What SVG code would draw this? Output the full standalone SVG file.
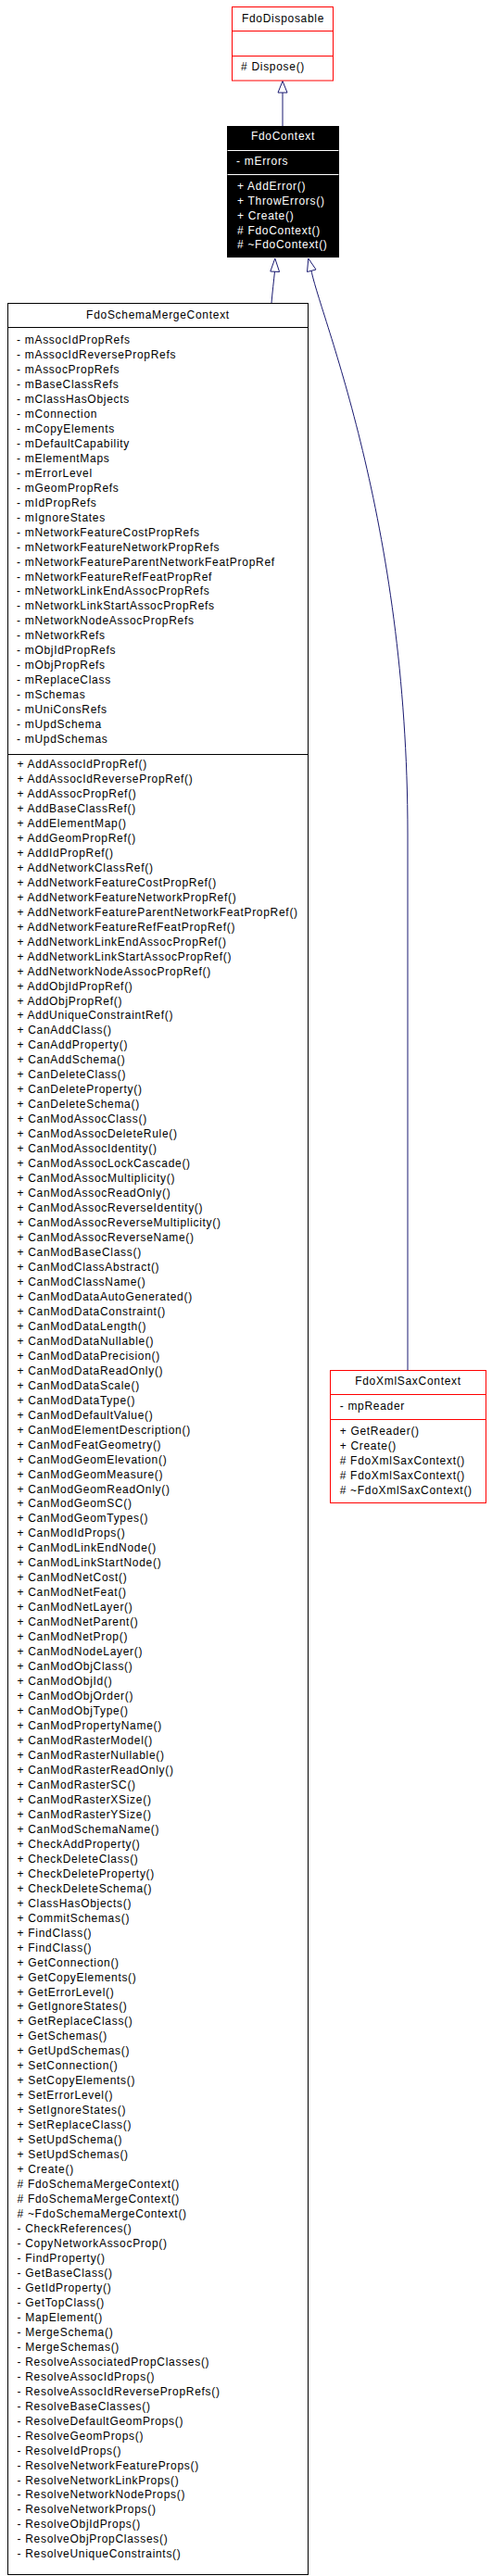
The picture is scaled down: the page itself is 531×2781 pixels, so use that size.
<svg xmlns="http://www.w3.org/2000/svg" width="531" height="2781" viewBox="0 0 531 2781">
<style>
text{font-family:"Liberation Sans",Arial,sans-serif;font-size:12px;letter-spacing:0.7px;fill:#000}
.w{fill:#fff}
.c{text-anchor:middle}
.box{fill:#fff;stroke:#000;stroke-width:1}
.red{fill:#fff;stroke:#ff0000;stroke-width:1}
.blk{fill:#000;stroke:#000;stroke-width:1}
.sep{stroke:#000;stroke-width:1}
.rsep{stroke:#ff0000;stroke-width:1}
.wsep{stroke:#fff;stroke-width:1}
.edge{fill:none;stroke:#191970;stroke-width:1}
.head{fill:#fff;stroke:#191970;stroke-width:1}
</style>
<rect width="531" height="2781" fill="#fff"/>
<g id="connectors">
<path class="edge" d="M305,136 L305,100"/>
<polygon class="head" points="305,87.5 300,100 310,100"/>
<path class="edge" d="M293,327 C294,315 295.5,303 296.5,293"/>
<polygon class="head" points="296.8,279 291.8,293 301.6,293.5"/>
<path class="edge" d="M336,292 C345,340 440,560 440,900 L440,1479"/>
<polygon class="head" points="332.8,279 331.5,293.5 341,291"/>
</g>
<g id="FdoDisposable">
<rect class="red" x="250.5" y="7.5" width="109" height="79.5"/>
<line class="rsep" x1="250.5" y1="33.5" x2="359.5" y2="33.5"/>
<line class="rsep" x1="250.5" y1="60.5" x2="359.5" y2="60.5"/>
<text class="c" x="305.5" y="23.5">FdoDisposable</text>
<text x="260" y="76"># Dispose()</text>
</g>
<g id="FdoContext">
<rect class="blk" x="245.5" y="136.5" width="120" height="141"/>
<line class="wsep" x1="245.5" y1="162.5" x2="365.5" y2="162.5"/>
<line class="wsep" x1="245.5" y1="188.5" x2="365.5" y2="188.5"/>
<text class="c w" x="305.5" y="151">FdoContext</text>
<text class="w" x="255" y="178">- mErrors</text>
<text class="w"><tspan x="256" y="205">+ AddError()</tspan><tspan x="256" dy="15.85">+ ThrowErrors()</tspan><tspan x="256" dy="15.85">+ Create()</tspan><tspan x="256" dy="15.85"># FdoContext()</tspan><tspan x="256" dy="15.85"># ~FdoContext()</tspan></text>
</g>
<g id="FdoXmlSaxContext">
<rect class="red" x="356.5" y="1479.5" width="168" height="143"/>
<line class="rsep" x1="356.5" y1="1505.5" x2="524.5" y2="1505.5"/>
<line class="rsep" x1="356.5" y1="1532.5" x2="524.5" y2="1532.5"/>
<text class="c" x="440.5" y="1495">FdoXmlSaxContext</text>
<text x="366.7" y="1522">- mpReader</text>
<text><tspan x="366.7" y="1549">+ GetReader()</tspan><tspan x="366.7" dy="15.9">+ Create()</tspan><tspan x="366.7" dy="15.9"># FdoXmlSaxContext()</tspan><tspan x="366.7" dy="15.9"># FdoXmlSaxContext()</tspan><tspan x="366.7" dy="15.9"># ~FdoXmlSaxContext()</tspan></text>
</g>
<g id="FdoSchemaMergeContext">
<rect class="box" x="8.5" y="327.5" width="324" height="2452"/>
<line class="sep" x1="8.5" y1="353.5" x2="332.5" y2="353.5"/>
<line class="sep" x1="8.5" y1="814.5" x2="332.5" y2="814.5"/>
<text class="c" x="170.5" y="344">FdoSchemaMergeContext</text>
<text><tspan x="18" y="371">- mAssocIdPropRefs</tspan><tspan x="18" dy="15.97">- mAssocIdReversePropRefs</tspan><tspan x="18" dy="15.97">- mAssocPropRefs</tspan><tspan x="18" dy="15.97">- mBaseClassRefs</tspan><tspan x="18" dy="15.97">- mClassHasObjects</tspan><tspan x="18" dy="15.97">- mConnection</tspan><tspan x="18" dy="15.97">- mCopyElements</tspan><tspan x="18" dy="15.97">- mDefaultCapability</tspan><tspan x="18" dy="15.97">- mElementMaps</tspan><tspan x="18" dy="15.97">- mErrorLevel</tspan><tspan x="18" dy="15.97">- mGeomPropRefs</tspan><tspan x="18" dy="15.97">- mIdPropRefs</tspan><tspan x="18" dy="15.97">- mIgnoreStates</tspan><tspan x="18" dy="15.97">- mNetworkFeatureCostPropRefs</tspan><tspan x="18" dy="15.97">- mNetworkFeatureNetworkPropRefs</tspan><tspan x="18" dy="15.97">- mNetworkFeatureParentNetworkFeatPropRef</tspan><tspan x="18" dy="15.97">- mNetworkFeatureRefFeatPropRef</tspan><tspan x="18" dy="15.97">- mNetworkLinkEndAssocPropRefs</tspan><tspan x="18" dy="15.97">- mNetworkLinkStartAssocPropRefs</tspan><tspan x="18" dy="15.97">- mNetworkNodeAssocPropRefs</tspan><tspan x="18" dy="15.97">- mNetworkRefs</tspan><tspan x="18" dy="15.97">- mObjIdPropRefs</tspan><tspan x="18" dy="15.97">- mObjPropRefs</tspan><tspan x="18" dy="15.97">- mReplaceClass</tspan><tspan x="18" dy="15.97">- mSchemas</tspan><tspan x="18" dy="15.97">- mUniConsRefs</tspan><tspan x="18" dy="15.97">- mUpdSchema</tspan><tspan x="18" dy="15.97">- mUpdSchemas</tspan></text>
<text><tspan x="18.5" y="829">+ AddAssocIdPropRef()</tspan><tspan x="18.5" dy="15.97">+ AddAssocIdReversePropRef()</tspan><tspan x="18.5" dy="15.97">+ AddAssocPropRef()</tspan><tspan x="18.5" dy="15.97">+ AddBaseClassRef()</tspan><tspan x="18.5" dy="15.97">+ AddElementMap()</tspan><tspan x="18.5" dy="15.97">+ AddGeomPropRef()</tspan><tspan x="18.5" dy="15.97">+ AddIdPropRef()</tspan><tspan x="18.5" dy="15.97">+ AddNetworkClassRef()</tspan><tspan x="18.5" dy="15.97">+ AddNetworkFeatureCostPropRef()</tspan><tspan x="18.5" dy="15.97">+ AddNetworkFeatureNetworkPropRef()</tspan><tspan x="18.5" dy="15.97">+ AddNetworkFeatureParentNetworkFeatPropRef()</tspan><tspan x="18.5" dy="15.97">+ AddNetworkFeatureRefFeatPropRef()</tspan><tspan x="18.5" dy="15.97">+ AddNetworkLinkEndAssocPropRef()</tspan><tspan x="18.5" dy="15.97">+ AddNetworkLinkStartAssocPropRef()</tspan><tspan x="18.5" dy="15.97">+ AddNetworkNodeAssocPropRef()</tspan><tspan x="18.5" dy="15.97">+ AddObjIdPropRef()</tspan><tspan x="18.5" dy="15.97">+ AddObjPropRef()</tspan><tspan x="18.5" dy="15.97">+ AddUniqueConstraintRef()</tspan><tspan x="18.5" dy="15.97">+ CanAddClass()</tspan><tspan x="18.5" dy="15.97">+ CanAddProperty()</tspan><tspan x="18.5" dy="15.97">+ CanAddSchema()</tspan><tspan x="18.5" dy="15.97">+ CanDeleteClass()</tspan><tspan x="18.5" dy="15.97">+ CanDeleteProperty()</tspan><tspan x="18.5" dy="15.97">+ CanDeleteSchema()</tspan><tspan x="18.5" dy="15.97">+ CanModAssocClass()</tspan><tspan x="18.5" dy="15.97">+ CanModAssocDeleteRule()</tspan><tspan x="18.5" dy="15.97">+ CanModAssocIdentity()</tspan><tspan x="18.5" dy="15.97">+ CanModAssocLockCascade()</tspan><tspan x="18.5" dy="15.97">+ CanModAssocMultiplicity()</tspan><tspan x="18.5" dy="15.97">+ CanModAssocReadOnly()</tspan><tspan x="18.5" dy="15.97">+ CanModAssocReverseIdentity()</tspan><tspan x="18.5" dy="15.97">+ CanModAssocReverseMultiplicity()</tspan><tspan x="18.5" dy="15.97">+ CanModAssocReverseName()</tspan><tspan x="18.5" dy="15.97">+ CanModBaseClass()</tspan><tspan x="18.5" dy="15.97">+ CanModClassAbstract()</tspan><tspan x="18.5" dy="15.97">+ CanModClassName()</tspan><tspan x="18.5" dy="15.97">+ CanModDataAutoGenerated()</tspan><tspan x="18.5" dy="15.97">+ CanModDataConstraint()</tspan><tspan x="18.5" dy="15.97">+ CanModDataLength()</tspan><tspan x="18.5" dy="15.97">+ CanModDataNullable()</tspan><tspan x="18.5" dy="15.97">+ CanModDataPrecision()</tspan><tspan x="18.5" dy="15.97">+ CanModDataReadOnly()</tspan><tspan x="18.5" dy="15.97">+ CanModDataScale()</tspan><tspan x="18.5" dy="15.97">+ CanModDataType()</tspan><tspan x="18.5" dy="15.97">+ CanModDefaultValue()</tspan><tspan x="18.5" dy="15.97">+ CanModElementDescription()</tspan><tspan x="18.5" dy="15.97">+ CanModFeatGeometry()</tspan><tspan x="18.5" dy="15.97">+ CanModGeomElevation()</tspan><tspan x="18.5" dy="15.97">+ CanModGeomMeasure()</tspan><tspan x="18.5" dy="15.97">+ CanModGeomReadOnly()</tspan><tspan x="18.5" dy="15.97">+ CanModGeomSC()</tspan><tspan x="18.5" dy="15.97">+ CanModGeomTypes()</tspan><tspan x="18.5" dy="15.97">+ CanModIdProps()</tspan><tspan x="18.5" dy="15.97">+ CanModLinkEndNode()</tspan><tspan x="18.5" dy="15.97">+ CanModLinkStartNode()</tspan><tspan x="18.5" dy="15.97">+ CanModNetCost()</tspan><tspan x="18.5" dy="15.97">+ CanModNetFeat()</tspan><tspan x="18.5" dy="15.97">+ CanModNetLayer()</tspan><tspan x="18.5" dy="15.97">+ CanModNetParent()</tspan><tspan x="18.5" dy="15.97">+ CanModNetProp()</tspan><tspan x="18.5" dy="15.97">+ CanModNodeLayer()</tspan><tspan x="18.5" dy="15.97">+ CanModObjClass()</tspan><tspan x="18.5" dy="15.97">+ CanModObjId()</tspan><tspan x="18.5" dy="15.97">+ CanModObjOrder()</tspan><tspan x="18.5" dy="15.97">+ CanModObjType()</tspan><tspan x="18.5" dy="15.97">+ CanModPropertyName()</tspan><tspan x="18.5" dy="15.97">+ CanModRasterModel()</tspan><tspan x="18.5" dy="15.97">+ CanModRasterNullable()</tspan><tspan x="18.5" dy="15.97">+ CanModRasterReadOnly()</tspan><tspan x="18.5" dy="15.97">+ CanModRasterSC()</tspan><tspan x="18.5" dy="15.97">+ CanModRasterXSize()</tspan><tspan x="18.5" dy="15.97">+ CanModRasterYSize()</tspan><tspan x="18.5" dy="15.97">+ CanModSchemaName()</tspan><tspan x="18.5" dy="15.97">+ CheckAddProperty()</tspan><tspan x="18.5" dy="15.97">+ CheckDeleteClass()</tspan><tspan x="18.5" dy="15.97">+ CheckDeleteProperty()</tspan><tspan x="18.5" dy="15.97">+ CheckDeleteSchema()</tspan><tspan x="18.5" dy="15.97">+ ClassHasObjects()</tspan><tspan x="18.5" dy="15.97">+ CommitSchemas()</tspan><tspan x="18.5" dy="15.97">+ FindClass()</tspan><tspan x="18.5" dy="15.97">+ FindClass()</tspan><tspan x="18.5" dy="15.97">+ GetConnection()</tspan><tspan x="18.5" dy="15.97">+ GetCopyElements()</tspan><tspan x="18.5" dy="15.97">+ GetErrorLevel()</tspan><tspan x="18.5" dy="15.97">+ GetIgnoreStates()</tspan><tspan x="18.5" dy="15.97">+ GetReplaceClass()</tspan><tspan x="18.5" dy="15.97">+ GetSchemas()</tspan><tspan x="18.5" dy="15.97">+ GetUpdSchemas()</tspan><tspan x="18.5" dy="15.97">+ SetConnection()</tspan><tspan x="18.5" dy="15.97">+ SetCopyElements()</tspan><tspan x="18.5" dy="15.97">+ SetErrorLevel()</tspan><tspan x="18.5" dy="15.97">+ SetIgnoreStates()</tspan><tspan x="18.5" dy="15.97">+ SetReplaceClass()</tspan><tspan x="18.5" dy="15.97">+ SetUpdSchema()</tspan><tspan x="18.5" dy="15.97">+ SetUpdSchemas()</tspan><tspan x="18.5" dy="15.97">+ Create()</tspan><tspan x="18.5" dy="15.97"># FdoSchemaMergeContext()</tspan><tspan x="18.5" dy="15.97"># FdoSchemaMergeContext()</tspan><tspan x="18.5" dy="15.97"># ~FdoSchemaMergeContext()</tspan><tspan x="18.5" dy="15.97">- CheckReferences()</tspan><tspan x="18.5" dy="15.97">- CopyNetworkAssocProp()</tspan><tspan x="18.5" dy="15.97">- FindProperty()</tspan><tspan x="18.5" dy="15.97">- GetBaseClass()</tspan><tspan x="18.5" dy="15.97">- GetIdProperty()</tspan><tspan x="18.5" dy="15.97">- GetTopClass()</tspan><tspan x="18.5" dy="15.97">- MapElement()</tspan><tspan x="18.5" dy="15.97">- MergeSchema()</tspan><tspan x="18.5" dy="15.97">- MergeSchemas()</tspan><tspan x="18.5" dy="15.97">- ResolveAssociatedPropClasses()</tspan><tspan x="18.5" dy="15.97">- ResolveAssocIdProps()</tspan><tspan x="18.5" dy="15.97">- ResolveAssocIdReversePropRefs()</tspan><tspan x="18.5" dy="15.97">- ResolveBaseClasses()</tspan><tspan x="18.5" dy="15.97">- ResolveDefaultGeomProps()</tspan><tspan x="18.5" dy="15.97">- ResolveGeomProps()</tspan><tspan x="18.5" dy="15.97">- ResolveIdProps()</tspan><tspan x="18.5" dy="15.97">- ResolveNetworkFeatureProps()</tspan><tspan x="18.5" dy="15.97">- ResolveNetworkLinkProps()</tspan><tspan x="18.5" dy="15.97">- ResolveNetworkNodeProps()</tspan><tspan x="18.5" dy="15.97">- ResolveNetworkProps()</tspan><tspan x="18.5" dy="15.97">- ResolveObjIdProps()</tspan><tspan x="18.5" dy="15.97">- ResolveObjPropClasses()</tspan><tspan x="18.5" dy="15.97">- ResolveUniqueConstraints()</tspan></text>
</g>
</svg>
